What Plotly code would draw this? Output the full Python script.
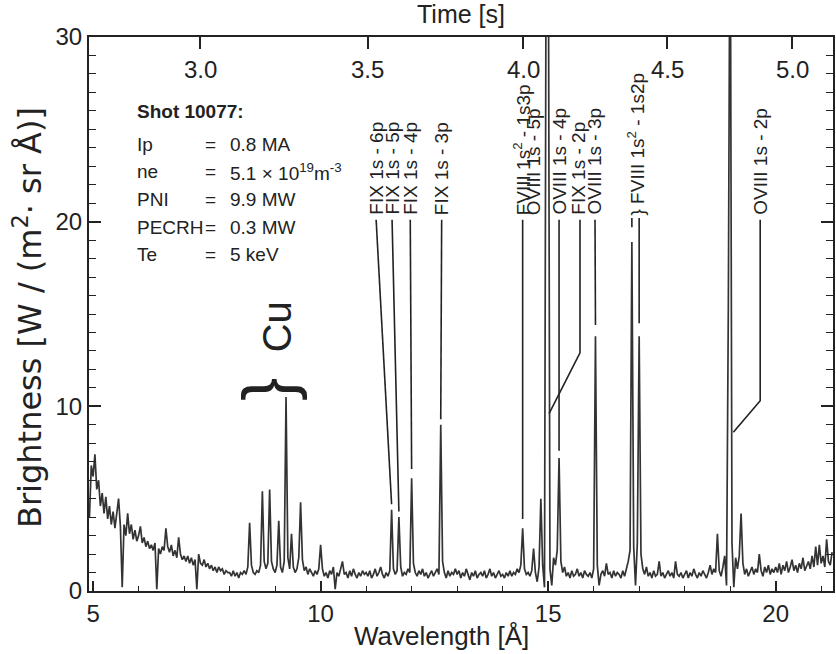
import plotly.graph_objects as go

# ---------------- data ----------------
# brightness sampled every 0.04 Angstrom starting at 4.92 A (read off the figure)
brightness = [
    4.0, 6.8,
    # 5.00 - 5.96
    6.2, 7.4, 5.5, 6.0, 4.6, 5.3, 4.2, 5.1, 3.9, 4.6, 3.6, 4.3, 3.4, 4.1, 5.0, 3.5, 0.2, 3.6, 3.0, 4.2, 3.1, 3.6, 2.8, 3.3, 2.7,
    # 6.00 - 6.96
    3.0, 3.5, 2.6, 2.9, 2.4, 2.7, 2.3, 2.5, 2.2, 2.6, 0.1, 2.3, 2.0, 2.4, 2.2, 3.4, 2.4, 2.1, 2.5, 1.9, 2.2, 1.8, 2.9, 2.0, 1.7,
    # 7.00 - 7.96
    1.9, 1.6, 1.9, 1.5, 1.8, 1.4, 1.7, 0.1, 2.0, 1.5, 1.4, 1.7, 1.3, 1.5, 1.2, 1.4, 1.1, 1.3, 1.0, 1.3, 1.1, 1.2, 0.9, 1.1, 1.0,
    # 8.00 - 8.96
    1.0, 0.8, 1.1, 0.8, 1.0, 0.7, 1.0, 0.9, 1.1, 0.9, 1.3, 3.7, 1.4, 1.0, 0.9, 1.1, 1.0, 1.4, 5.4, 1.6, 1.2, 1.5, 5.5, 1.6, 1.2,
    # 9.00 - 9.96
    1.0, 1.4, 3.8, 1.3, 1.0, 1.6, 10.5, 1.8, 1.2, 3.1, 1.3, 1.0, 1.2, 1.8, 4.8, 1.7, 1.1, 1.3, 0.9, 1.2, 1.0, 0.8, 1.1, 0.9, 1.2,
    # 10.00 - 10.96
    2.5, 1.2, 0.8, 1.0, 0.7, 1.1, 0.9, 1.3, 0.1, 1.0, 0.8, 1.2, 1.6, 0.9, 1.0, 0.7, 1.1, 0.8, 1.2, 0.9, 0.7, 1.0, 0.8, 1.1, 0.9,
    # 11.00 - 11.96
    1.0, 0.8, 1.1, 0.7, 0.9, 1.2, 0.8, 1.0, 1.3, 0.9, 0.7, 1.0, 0.8, 1.1, 4.4, 1.2, 0.9, 1.1, 4.0, 1.3, 0.8, 1.0, 0.9, 1.2, 1.0,
    # 12.00 - 12.96
    6.1, 1.5, 1.0, 0.8, 1.1, 0.9, 1.2, 0.8, 1.0, 0.7, 0.9, 1.1, 0.8, 1.0, 1.2, 0.9, 9.0, 1.6, 1.0, 0.7, 1.1, 0.8, 1.0, 0.9, 1.2,
    # 13.00 - 13.96
    0.9, 1.1, 0.7, 1.0, 0.8, 1.2, 0.9, 0.6, 1.0, 0.8, 1.1, 0.7, 0.9, 1.0, 0.8, 1.1, 0.7, 0.9, 1.2, 0.8, 1.0, 0.7, 0.9, 1.1, 0.8,
    # 14.00 - 14.96
    0.9, 0.7, 1.0, 0.8, 1.1, 0.8, 1.0, 0.9, 1.2, 1.0, 1.4, 3.4, 1.2, 0.9, 1.0, 0.8, 1.1, 2.3, 1.0, 0.5, 1.3, 5.0, 1.4, 0.2, 40.0,
    # 15.00 - 15.96
    40.0, 1.2, 0.3, 1.8, 1.4, 2.2, 7.2, 1.6, 1.0, 1.3, 0.8, 1.0, 0.7, 1.1, 0.8, 0.9, 1.2, 0.8, 1.0, 0.7, 1.1, 0.9, 0.8, 1.0, 0.7,
    # 16.00 - 16.96
    1.2, 13.8, 1.4, 0.3, 0.9, 1.1, 0.8, 1.5, 0.9, 1.0, 0.7, 1.1, 0.8, 1.0, 0.9, 0.7, 1.1, 0.8, 1.2, 1.6, 2.2, 18.9, 2.4, 0.3, 2.6,
    # 17.00 - 17.96
    13.8, 2.0, 1.2, 0.9, 1.3, 0.8, 1.0, 0.7, 1.1, 0.8, 0.9, 1.6, 0.8, 1.0, 0.7, 0.9, 1.1, 0.8, 1.0, 0.7, 1.6, 0.9, 0.8, 1.0, 0.7,
    # 18.00 - 18.96
    0.9, 1.1, 0.7, 1.0, 0.8, 1.2, 0.9, 0.7, 1.0, 0.8, 1.1, 0.9, 0.7, 1.0, 1.4, 0.9, 1.2, 1.0, 3.1, 1.1, 0.8, 1.3, 1.9, 0.3, 15.4,
    # 19.00 - 19.96
    40.0, 2.6, 0.2, 1.8, 1.2, 1.9, 4.2, 1.5, 0.9, 1.2, 0.8, 1.1, 1.3, 0.9, 1.2, 1.0, 2.0, 1.1, 0.8, 1.3, 1.0, 1.4, 0.9, 1.2, 1.0,
    # 20.00 - 20.96
    1.3, 1.0, 1.5, 0.9, 1.4, 1.1, 1.6, 1.0, 1.3, 1.7, 1.1, 1.4, 1.0, 1.5, 1.2, 1.8, 1.1, 1.4, 1.6, 1.2, 1.9, 1.3, 2.4, 1.4, 2.5,
    # 21.00 - 21.24
    1.5, 1.9, 1.3, 2.8, 1.6, 1.4, 2.1,
]
wavelength = [round(4.92 + 0.04 * i, 2) for i in range(len(brightness))]

time_labels = ["3.0", "3.5", "4.0", "4.5", "5.0"]
time_tick_wavelengths = [7.35, 11.04, 14.45, 17.62, 20.36]

shot_title = "Shot 10077:"
info_names = ["Ip", "ne", "PNI", "PECRH", "Te"]
info_values = ["0.8 MA", "5.1 × 10<sup>19</sup>m<sup>-3</sup>", "9.9 MW", "0.3 MW", "5 keV"]

line_names = ["FIX 1s - 6p", "FIX 1s - 5p", "FIX 1s - 4p", "FIX 1s - 3p",
              "FVIII 1s<sup>2</sup> - 1s3p", "OVIII 1s - 5p", "OVIII 1s - 4p",
              "FIX 1s - 2p", "OVIII 1s - 3p", "} FVIII 1s<sup>2</sup> - 1s2p", "OVIII 1s - 2p"]

# ---------------- layout helpers (positions) ----------------
FONT = "Liberation Sans, Arial, Helvetica, sans-serif"
INK = "#222222"
PL, PT, PB, PW, PH = 89, 37, 591, 744, 554   # plot area in pixels


def px_x(px):
    return (px - PL) / PW


def px_y(py):
    return (PB - py) / PH


label_x = [11.22, 11.57, 11.97, 12.66, 14.42, 14.68, 15.24, 15.66, 16.03, 16.93, 19.66]
label_y = 20.25
leaders = [
    [(11.22, 20.1), (11.56, 4.7)],
    [(11.57, 20.1), (11.72, 4.3)],
    [(11.97, 20.1), (12.00, 6.6)],
    [(12.66, 20.1), (12.64, 9.3)],
    [(14.44, 20.1), (14.44, 3.9)],
    [(15.24, 20.1), (15.24, 7.6)],
    [(15.70, 20.1), (15.70, 12.9), (15.02, 9.6)],
    [(16.03, 20.1), (16.04, 14.4)],
    [(16.84, 20.2), (16.84, 19.7)],
    [(17.00, 20.2), (17.00, 14.5)],
    [(19.66, 20.1), (19.66, 10.3), (19.07, 8.6)],
]

fig = go.Figure()
fig.add_trace(go.Scatter(x=wavelength, y=brightness, mode="lines",
                         line=dict(color="#333333", width=1.7),
                         showlegend=False, hoverinfo="skip"))
fig.add_trace(go.Scatter(x=time_tick_wavelengths, y=[0] * len(time_tick_wavelengths),
                         xaxis="x2", mode="markers", marker=dict(opacity=0),
                         showlegend=False, hoverinfo="skip"))

shapes = []
for path in leaders:
    d = "M " + " L ".join(f"{x},{y}" for x, y in path)
    shapes.append(dict(type="path", path=d, xref="x", yref="y",
                       line=dict(color=INK, width=1.6)))

annotations = []
for txt, x in zip(line_names, label_x):
    annotations.append(dict(text=txt, x=x, y=label_y, xref="x", yref="y",
                            textangle=-90, xanchor="center", yanchor="bottom",
                            showarrow=False, font=dict(family=FONT, size=19, color=INK)))

# time tick labels (top axis, drawn inside the frame)
for lab, x in zip(time_labels, time_tick_wavelengths):
    annotations.append(dict(text=lab, x=x, y=px_y(70), xref="x", yref="paper",
                            xanchor="center", yanchor="middle", showarrow=False,
                            font=dict(family=FONT, size=24, color=INK)))

# Cu bracket
annotations.append(dict(text="}", x=8.83, y=10.9, xref="x", yref="y", textangle=-90,
                        showarrow=False, font=dict(family=FONT, size=70, color=INK)))
annotations.append(dict(text="Cu", x=9.05, y=14.3, xref="x", yref="y", textangle=-90,
                        showarrow=False, font=dict(family=FONT, size=40, color=INK)))

# axis titles
annotations.append(dict(text="Wavelength [Å]", x=px_x(441), y=px_y(636),
                        xref="paper", yref="paper", xanchor="center", yanchor="middle",
                        showarrow=False, font=dict(family=FONT, size=26, color=INK)))
annotations.append(dict(text="Brightness [W / (m<sup>2</sup>· sr Å)]", x=px_x(28), y=px_y(318),
                        xref="paper", yref="paper", xanchor="center", yanchor="middle",
                        textangle=-90, showarrow=False,
                        font=dict(family="DejaVu Sans, sans-serif", size=32, color=INK)))

# info block
annotations.append(dict(text=f"<b>{shot_title}</b>", x=5.92, y=25.96, xref="x", yref="y",
                        xanchor="left", yanchor="middle", showarrow=False,
                        font=dict(family=FONT, size=19, color=INK)))
info_rows_y = [24.2, 22.7, 21.2, 19.7, 18.2]
for name, val, yy in zip(info_names, info_values, info_rows_y):
    annotations.append(dict(text=name, x=5.92, y=yy, xref="x", yref="y", xanchor="left",
                            yanchor="middle", showarrow=False,
                            font=dict(family=FONT, size=19, color=INK)))
    annotations.append(dict(text="=", x=7.57, y=yy, xref="x", yref="y", xanchor="center",
                            yanchor="middle", showarrow=False,
                            font=dict(family=FONT, size=19, color=INK)))
    annotations.append(dict(text=val, x=7.97, y=yy, xref="x", yref="y", xanchor="left",
                            yanchor="middle", showarrow=False,
                            font=dict(family=FONT, size=19, color=INK)))

axis_common = dict(showgrid=False, zeroline=False, showline=True, linecolor=INK,
                   linewidth=2, tickcolor=INK, tickwidth=1.5, automargin=False,
                   tickfont=dict(family=FONT, size=24, color=INK))

fig.update_layout(
    width=836, height=654,
    margin=dict(l=PL, r=3, t=PT, b=654 - PB),
    paper_bgcolor="white", plot_bgcolor="white",
    showlegend=False,
    xaxis=dict(range=[4.91, 21.26], tickmode="linear", tick0=5, dtick=5, ticks="inside", ticklen=10,
               minor=dict(tick0=5, dtick=1, ticks="inside", ticklen=5, tickcolor=INK, tickwidth=1.2),
               **axis_common),
    xaxis2=dict(range=[4.91, 21.26], overlaying="x", side="top", anchor="y",
                tickmode="array", tickvals=time_tick_wavelengths,
                showticklabels=False, ticks="inside", ticklen=12,
                title=dict(text="Time [s]", font=dict(family=FONT, size=25, color=INK), standoff=12),
                **axis_common),
    yaxis=dict(range=[0, 30], tickmode="linear", tick0=0, dtick=10, ticks="inside", ticklen=12,
               mirror="ticks",
               minor=dict(tick0=0, dtick=1, ticks="inside", ticklen=7, tickcolor=INK, tickwidth=1.2),
               **axis_common),
    shapes=shapes,
    annotations=annotations,
)

fig.write_html(
    "out.html",
    config={"displayModeBar": False},
    post_script="document.body.style.margin='0px';document.body.style.overflow='hidden';",
)
